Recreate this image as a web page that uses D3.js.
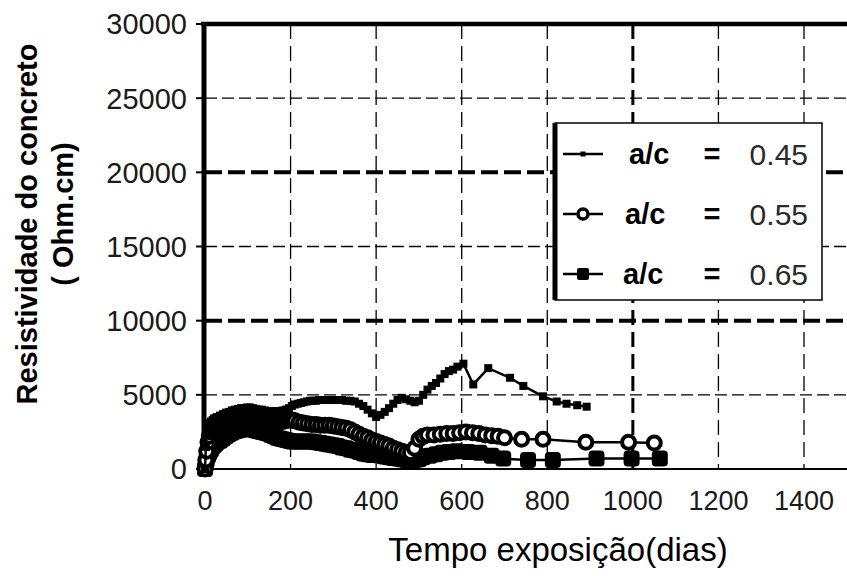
<!DOCTYPE html>
<html>
<head>
<meta charset="utf-8">
<script src="https://cdn.jsdelivr.net/npm/d3@7"></script>
<style>
  html, body { margin: 0; padding: 0; background: #fff; }
  svg { display: block; font-family: "Liberation Sans", Arial, sans-serif; }
</style>
</head>
<body>
<svg id="chart" width="847" height="576"></svg>
<script>
// ---------------- data ----------------
const xTicks = [0, 200, 400, 600, 800, 1000, 1200, 1400];
const yTicks = [0, 5000, 10000, 15000, 20000, 25000, 30000];
const seriesNames = ["a/c", "a/c", "a/c"];
const seriesValues = ["0.45", "0.55", "0.65"];

const days45 = [0,2,4,7,10,14,18,21,25,28,35,42,49,56,63,70,77,84,91,98,105,112,119,126,133,140,147,154,161,168,175,182,189,196,203,210,217,224,231,238,245,252,259,266,273,280,290,300,310,320,330,340,350,360,370,380,390,400,410,420,430,440,450,460,470,480,490,500,510,520,530,540,550,560,570,580,590,604,627,662,713,744,790,822,845,870,892];
const vals45 = [0,1500,2500,2900,3100,3200,3300,3400,3450,3500,3600,3700,3800,3850,3950,4000,4050,4100,4100,4150,4150,4100,4050,4000,4000,3950,3900,3900,3900,3900,3900,3950,4000,4100,4250,4350,4400,4450,4500,4550,4600,4600,4600,4650,4650,4650,4650,4650,4650,4650,4600,4600,4550,4400,4250,4000,3750,3500,3650,3850,4100,4400,4650,4800,4700,4600,4500,4600,5000,5350,5600,5800,6100,6400,6600,6700,6900,7100,5700,6800,6150,5600,4900,4550,4400,4300,4200];

const days55 = [0,2,4,7,10,14,18,21,25,28,35,42,49,56,63,70,77,84,91,98,105,112,119,126,133,140,147,154,161,168,175,182,189,196,203,210,220,230,240,250,260,270,280,290,300,310,320,330,340,350,360,370,380,390,400,410,420,430,440,450,460,470,480,490,500,510,520,535,550,565,580,595,610,625,640,655,670,685,700,740,790,890,990,1050];
const vals55 = [0,600,1200,1800,2200,2500,2700,2800,2900,3000,3100,3200,3200,3300,3300,3300,3350,3350,3400,3400,3400,3350,3300,3300,3300,3300,3300,3250,3250,3250,3200,3200,3250,3300,3300,3250,3150,3100,3050,3000,3000,2950,2950,2950,2900,2850,2800,2750,2650,2500,2350,2200,2100,1950,1850,1750,1650,1550,1400,1300,1200,1100,1100,1400,2000,2200,2300,2300,2350,2400,2400,2450,2500,2450,2400,2300,2250,2200,2100,2000,2000,1800,1800,1750];

const days65 = [0,2,4,7,10,14,18,21,25,28,35,42,49,56,63,70,77,84,91,98,105,112,119,126,133,140,147,154,161,168,175,182,189,196,203,210,220,230,240,250,260,270,280,290,300,310,320,330,340,350,360,370,380,390,400,410,420,430,440,450,460,470,480,490,500,510,525,540,555,570,588,615,642,670,697,755,813,915,997,1063];
const vals65 = [0,300,600,900,1100,1300,1500,1600,1700,1800,1900,2050,2200,2350,2450,2550,2600,2650,2700,2700,2700,2650,2600,2550,2500,2450,2400,2300,2200,2100,2050,2000,1950,1900,1850,1850,1850,1850,1850,1850,1800,1750,1700,1650,1600,1550,1450,1400,1300,1250,1150,1050,1000,950,950,900,850,800,750,700,650,600,600,600,650,800,900,1000,1100,1150,1200,1150,1100,900,700,600,600,700,700,700];

// ---------------- setup ----------------
const svg = d3.select("#chart");
const x = d3.scaleLinear().domain([0, 1400]).range([205, 804]);
const y = d3.scaleLinear().domain([0, 30000]).range([469, 24]);
const xRight = 850;

// gridlines horizontal
const gGrid = svg.append("g");
yTicks.filter(v => v > 0 && v < 30000).forEach(v => {
  const thick = (v === 10000 || v === 20000);
  gGrid.append("line")
    .attr("x1", x(0)).attr("x2", xRight)
    .attr("y1", y(v)).attr("y2", y(v))
    .attr("stroke", "#000")
    .attr("stroke-width", thick ? 4 : 1.3)
    .attr("stroke-dasharray", thick ? "17,6" : "12,5");
});
// gridlines vertical
xTicks.filter(v => v > 0).forEach(v => {
  const thick = (v === 1000);
  gGrid.append("line")
    .attr("x1", x(v)).attr("x2", x(v))
    .attr("y1", y(30000)).attr("y2", y(0))
    .attr("stroke", "#000")
    .attr("stroke-width", thick ? 3 : 1.3)
    .attr("stroke-dasharray", "15,7");
});

// axes frame
svg.append("line").attr("x1", 201).attr("x2", xRight).attr("y1", y(30000)).attr("y2", y(30000))
  .attr("stroke", "#000").attr("stroke-width", 4.5);
svg.append("line").attr("x1", 204).attr("x2", 204).attr("y1", y(30000) - 2).attr("y2", y(0) + 2)
  .attr("stroke", "#000").attr("stroke-width", 5);
svg.append("line").attr("x1", 204).attr("x2", xRight).attr("y1", y(0)).attr("y2", y(0))
  .attr("stroke", "#000").attr("stroke-width", 2);

// y tick marks
yTicks.forEach(v => {
  svg.append("line").attr("x1", 196).attr("x2", 204).attr("y1", y(v)).attr("y2", y(v))
    .attr("stroke", "#000").attr("stroke-width", 2);
});

// tick labels
svg.append("g").selectAll("text").data(yTicks).join("text")
  .attr("x", 187).attr("y", d => y(d)).attr("dy", "0.36em")
  .attr("text-anchor", "end").attr("font-size", 29).attr("fill", "#1a1a1a")
  .text(d => d);
svg.append("g").selectAll("text").data(xTicks).join("text")
  .attr("x", d => x(d)).attr("y", 510)
  .attr("text-anchor", "middle").attr("font-size", 27).attr("fill", "#1a1a1a")
  .text(d => d);

// axis titles
svg.append("text").attr("x", 558).attr("y", 561).attr("text-anchor", "middle")
  .attr("font-size", 33).attr("fill", "#000").text("Tempo exposição(dias)");
svg.append("text").attr("transform", "translate(37,224) rotate(-90)")
  .attr("text-anchor", "middle").attr("font-size", 29).attr("font-weight", "bold")
  .attr("fill", "#000").text("Resistividade do concreto");
svg.append("text").attr("transform", "translate(73,214) rotate(-90)")
  .attr("text-anchor", "middle").attr("font-size", 29).attr("font-weight", "bold")
  .attr("fill", "#000").text("( Ohm.cm)");

// ---------------- series ----------------
const line = d3.line().x(d => x(d[0])).y(d => y(d[1]));
const s65 = days65.map((d, i) => [d, vals65[i]]);
const s55 = days55.map((d, i) => [d, vals55[i]]);
const s45 = days45.map((d, i) => [d, vals45[i]]);

const gS = svg.append("g");
function drawSeries(data, width, marker) {
  gS.append("path").datum(data).attr("d", line).attr("fill", "none")
    .attr("stroke", "#000").attr("stroke-width", width);
  const g = gS.append("g");
  data.forEach(p => marker(g, x(p[0]), y(p[1])));
}
const mk65 = (g, cx, cy) => g.append("rect").attr("x", cx - 8).attr("y", cy - 8).attr("width", 16).attr("height", 16)
  .attr("rx", 4).attr("fill", "#000");
const mk55 = (g, cx, cy) => g.append("circle").attr("cx", cx).attr("cy", cy).attr("r", 6.5)
  .attr("fill", "#fff").attr("stroke", "#000").attr("stroke-width", 4);
const mk45 = (g, cx, cy) => g.append("rect").attr("x", cx - 4).attr("y", cy - 4).attr("width", 8).attr("height", 8).attr("fill", "#000");

drawSeries(s65, 2.5, mk65);
drawSeries(s55, 2.5, mk55);
drawSeries(s45, 2.5, mk45);

// ---------------- legend ----------------
const lg = svg.append("g");
lg.append("rect").attr("x", 555).attr("y", 123).attr("width", 267).attr("height", 177)
  .attr("fill", "#fff").attr("stroke", "#000").attr("stroke-width", 1.5);
lg.append("line").attr("x1", 555).attr("x2", 555).attr("y1", 123).attr("y2", 300)
  .attr("stroke", "#000").attr("stroke-width", 5);
const rowsY = [154, 214, 274];
const aX = [629, 625, 623];
const markers = [
  (g, cx, cy) => g.append("rect").attr("x", cx - 2.5).attr("y", cy - 2.5).attr("width", 5).attr("height", 5).attr("fill", "#000"),
  (g, cx, cy) => g.append("circle").attr("cx", cx).attr("cy", cy).attr("r", 5).attr("fill", "#fff").attr("stroke", "#000").attr("stroke-width", 3.5),
  (g, cx, cy) => g.append("rect").attr("x", cx - 6).attr("y", cy - 6).attr("width", 12).attr("height", 12).attr("rx", 2).attr("fill", "#000")
];
rowsY.forEach((ry, i) => {
  lg.append("line").attr("x1", 563).attr("x2", 603).attr("y1", ry).attr("y2", ry)
    .attr("stroke", "#000").attr("stroke-width", 2.5);
  markers[i](lg, 583, ry);
  lg.append("text").attr("x", aX[i]).attr("y", ry).attr("dy", "0.36em")
    .attr("font-size", 29).attr("font-weight", "bold").attr("fill", "#000").text(seriesNames[i]);
  lg.append("text").attr("x", 712).attr("y", ry).attr("dy", "0.36em").attr("text-anchor", "middle")
    .attr("font-size", 29).attr("font-weight", "bold").attr("fill", "#000").text("=");
  lg.append("text").attr("x", 808).attr("y", ry).attr("dy", "0.36em").attr("text-anchor", "end")
    .attr("font-size", 30).attr("fill", "#2a2a2a").text(seriesValues[i]);
});
</script>
</body>
</html>
